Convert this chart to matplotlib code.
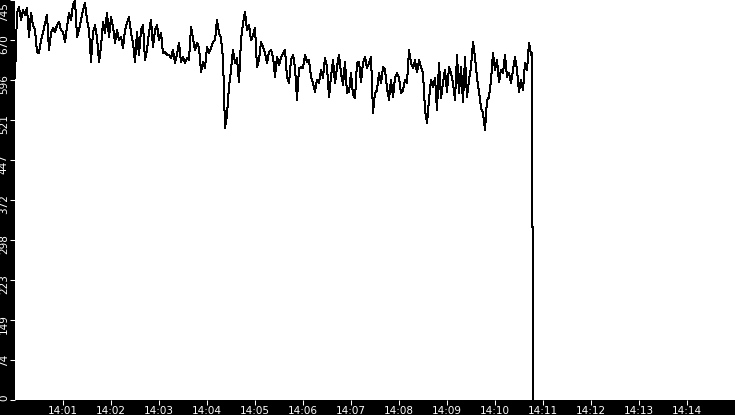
import numpy as np
import matplotlib
matplotlib.use("Agg")
import matplotlib.pyplot as plt
import matplotlib.dates as mdates
import matplotlib.transforms as mtransforms

# valores, una muestra cada 2.5 s desde las 14:00:00
step_s = 2.5
values = [
    600, 721, 732, 708, 726, 717, 730, 676, 721, 698,
    689, 648, 646, 670, 684, 702, 717, 652, 684, 693,
    685, 698, 704, 689, 685, 667, 695, 721, 708, 736,
    745, 676, 689, 708, 726, 739, 708, 689, 630, 684,
    698, 676, 630, 657, 704, 684, 721, 676, 713, 695,
    665, 689, 670, 676, 656, 689, 702, 713, 684, 665,
    630, 685, 643, 689, 698, 633,
    652, 685, 708, 657, 689, 698, 670, 684, 646, 648,
    643, 643, 637, 652, 628, 643, 665, 630, 639, 628,
    637, 633, 695, 674, 652, 665, 657, 611, 630, 618,
    657, 646, 656, 667, 670, 708, 684, 674, 637, 507,
    531, 583, 615, 652, 628, 637, 592, 670, 702, 723,
    689, 698, 670, 680, 693, 620, 633, 667, 657, 646,
    628, 648, 652, 639, 602,
    639, 624, 637, 646, 652, 602, 590, 633, 643, 620,
    559, 618, 620, 618, 643, 630, 633, 602, 590, 574,
    596, 590, 615, 600, 637, 620, 564, 602, 633, 590,
    620, 643, 609, 587, 630, 572, 574, 609, 568, 562,
    628, 630, 592, 628, 639, 618, 628, 639, 535, 572,
    577, 609, 590, 620, 615, 581, 559, 596, 564, 600,
    609, 600, 572, 577, 596,
    590, 652, 628, 618, 633, 611, 633, 620, 609, 540,
    516, 559, 596, 583, 600, 540, 628, 562, 592, 615,
    574, 620, 609, 590, 559, 643, 572, 620, 555, 639,
    564, 596, 620, 667, 639, 600, 574, 544, 535, 503,
    559, 564, 596, 646, 615, 633, 592, 615, 609, 643,
    602, 609, 590, 615, 639, 615, 574, 596, 577, 628,
    615, 665, 643,
]
# caida final a cero
tail_s = [646.6, 646.7, 647.9, 648.0]
tail_values = [646, 322, 322, 0]

y_max = 745
y_ticks = np.linspace(0, y_max, 11)
y_labels = [str(int(v)) for v in y_ticks]
x_tick_minutes = list(range(1, 15))

#%%
start = np.datetime64("2000-01-01T14:00:00")
secs = np.concatenate([np.arange(len(values)) * step_s, tail_s])
times = start + (secs * 1000).astype("timedelta64[ms]")
vals = np.array(values + tail_values)

fig = plt.figure(figsize=(7.35, 4.15), dpi=100, facecolor="black")
ax = fig.add_axes([15 / 735, 15 / 415, 720 / 735, 400 / 415])
ax.set_facecolor("white")
ax.plot(times.astype("datetime64[ms]").astype(object), vals, color="black",
        lw=0.72, antialiased=False)

ax.set_xlim(start.astype(object), (start + np.timedelta64(15, "m")).astype(object))
ax.set_ylim(0, y_max)

xt = [(start + np.timedelta64(m, "m")).astype(object) for m in x_tick_minutes]
ax.set_xticks(xt)
ax.xaxis.set_major_formatter(mdates.DateFormatter("%H:%M"))
ax.set_yticks(y_ticks)
ax.set_yticklabels(y_labels)

for s in ax.spines.values():
    s.set_visible(False)

ax.tick_params(axis="both", direction="out", length=3.6, width=0.75,
               color="white", labelcolor="white", labelsize=7.5)
ax.tick_params(axis="x", pad=0.5)
ax.tick_params(axis="y", pad=0.8)

labs = ax.get_yticklabels()
for i, lab in enumerate(labs):
    lab.set_rotation(90)
    lab.set_va("top")
    dy = 6 if i < len(labs) - 1 else -2
    off = mtransforms.ScaledTranslation(0, dy / 100, fig.dpi_scale_trans)
    lab.set_transform(lab.get_transform() + off)

fig.savefig("out.png", dpi=100, facecolor="black")
